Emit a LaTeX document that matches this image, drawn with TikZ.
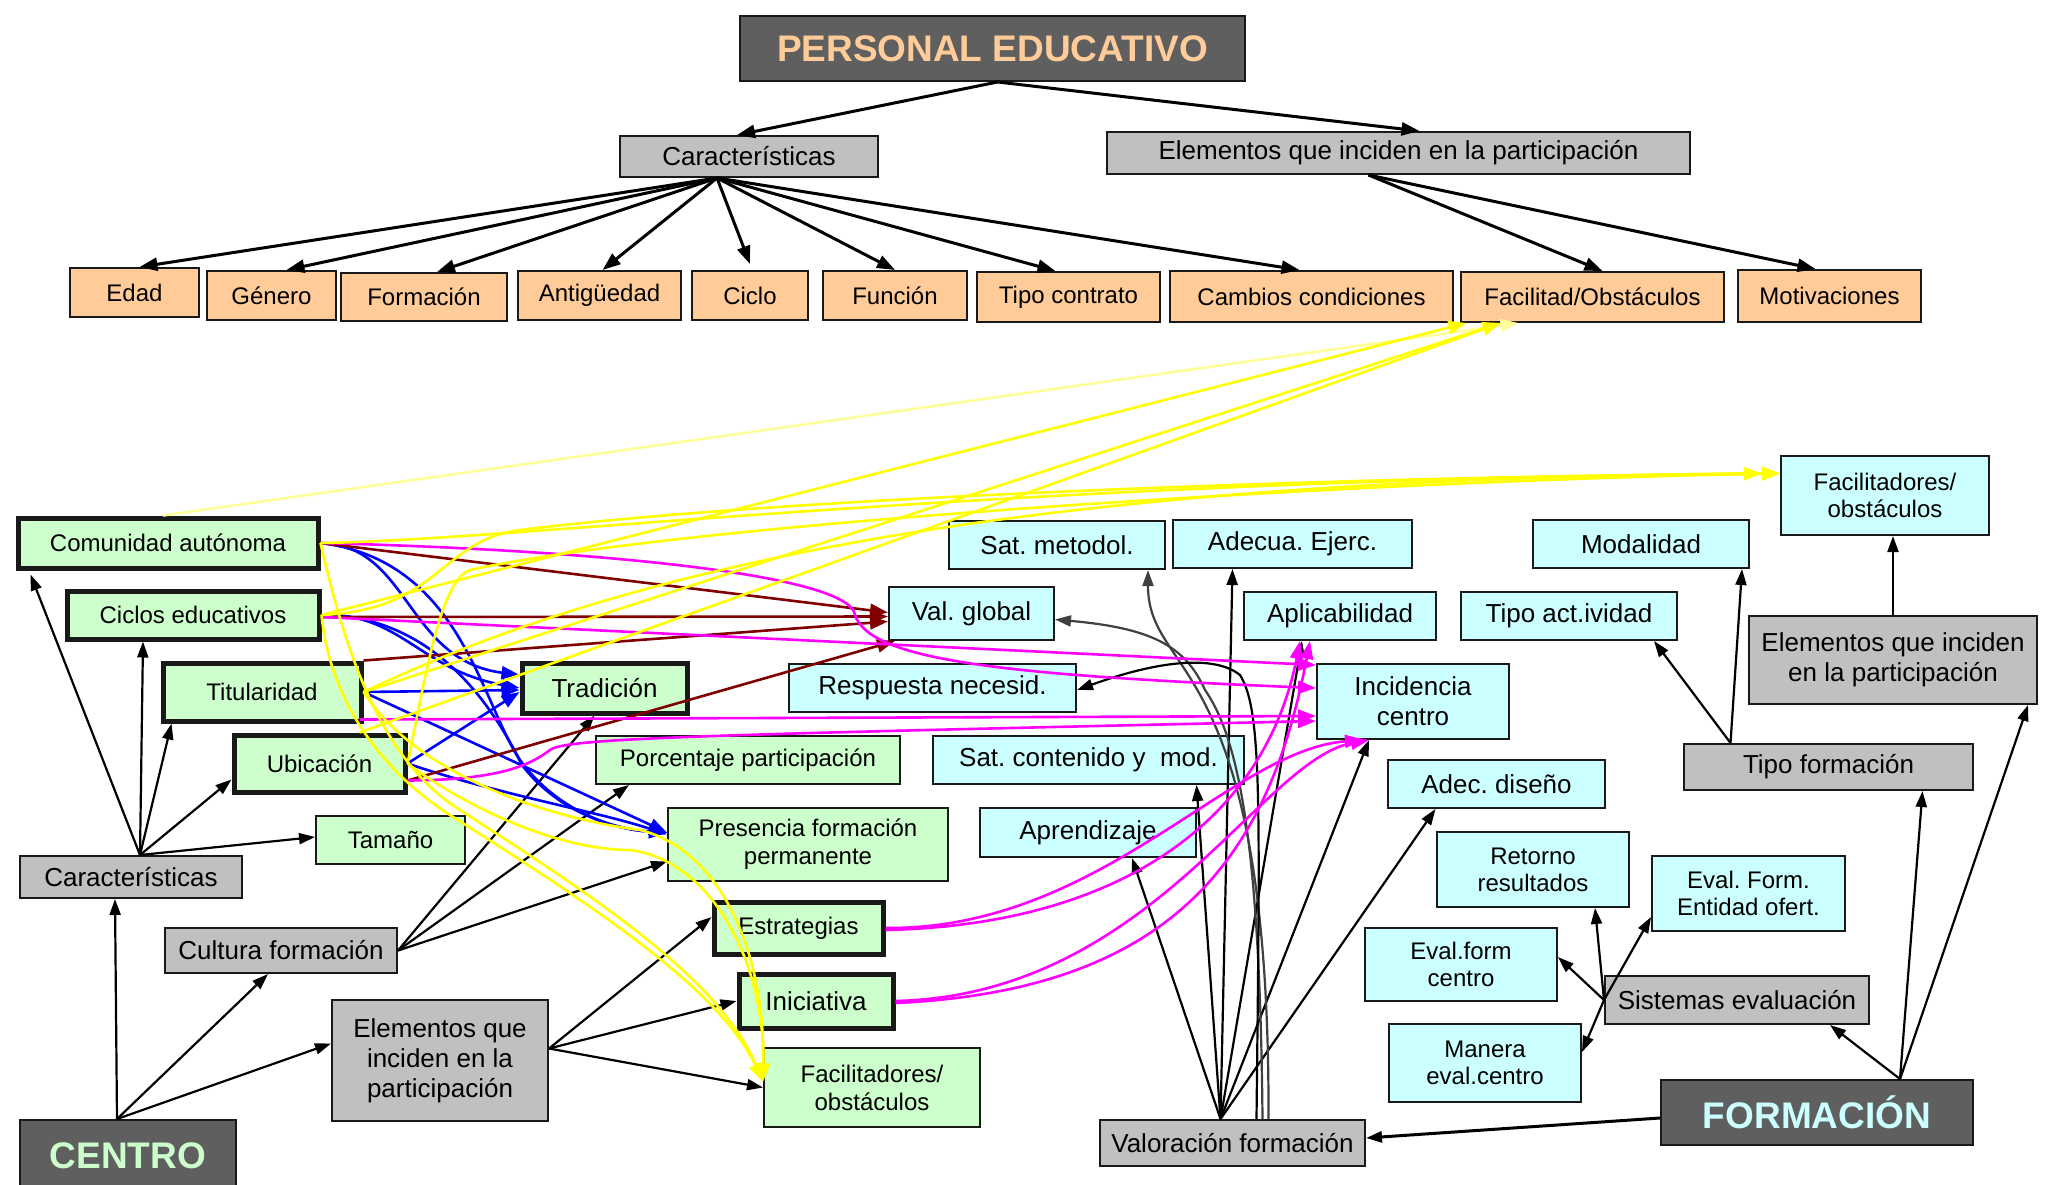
\documentclass[tikz,border=0pt]{standalone}
\usepackage{fontspec}
\setmainfont{Liberation Sans}
\usetikzlibrary{arrows.meta,calc}
\frenchspacing
\definecolor{cOr}{HTML}{FFCC99}
\definecolor{cGr}{HTML}{CCFFCC}
\definecolor{cCy}{HTML}{CCFFFF}
\definecolor{cGy}{HTML}{C0C0C0}
\definecolor{cDk}{HTML}{5F5F5F}
\definecolor{cYe}{HTML}{FFFF00}
\definecolor{cPy}{HTML}{FFFF99}
\definecolor{cMr}{HTML}{800000}
\definecolor{cMg}{HTML}{FF00FF}
\definecolor{cBl}{HTML}{0000FF}
\definecolor{cLn}{HTML}{404040}
\newcommand\fsz[2]{\fontsize{#1pt}{#2pt}\selectfont}
\tikzset{
  box/.style={draw=black!90, line width=2pt, inner sep=0pt, align=center, text=black},
  orangebox/.style={box, fill=cOr, font=\fsz{24}{28}},
  greenbox/.style={box, fill=cGr, font=\fsz{24}{28}},
  thickbox/.style={greenbox, line width=5pt},
  cyanbox/.style={box, fill=cCy, font=\fsz{26}{30}},
  smallcyan/.style={box, fill=cCy, font=\fsz{24}{27}},
  greybox/.style={box, fill=cGy, font=\fsz{26}{30}},
  darkbox/.style={box, fill=cDk, font=\bfseries\fsz{37}{42}},
  toparrow/.style={line width=3pt, -{Triangle[length=18pt,width=13pt]}},
  blkarrow/.style={line width=2.2pt, -{Triangle[length=16pt,width=11pt]}},
  greyarrow/.style={blkarrow, draw=cLn},
  colarrow/.style={line width=2.6pt, -{Triangle[length=18pt,width=13pt]}},
  yel/.style={colarrow, draw=cYe},
  paleyel/.style={colarrow, draw=cPy},
  blu/.style={colarrow, draw=cBl},
  mar/.style={colarrow, draw=cMr},
  mag/.style={colarrow, draw=cMg},
}
\begin{document}
\begin{tikzpicture}[x=1pt,y=-1pt]
\useasboundingbox (0,0) rectangle (2045,1184);
\clip (0,0) rectangle (2045,1184);
\fill[white] (0,0) rectangle (2045,1184);

% ---------- PERSONAL EDUCATIVO ----------
\node[darkbox, text=cOr, minimum width=505pt, minimum height=65pt] (pe) at (992.5,48.5) {PERSONAL EDUCATIVO};
\node[greybox, minimum width=258pt, minimum height=41pt] (carP) at (749,156.5) {Características};
\node[greybox, minimum width=583pt, minimum height=42pt] (elemP) at (1398.5,153) {Elementos que inciden en la participación};

\node[orangebox, minimum width=129pt, minimum height=49pt] (edad) at (134.5,292.5) {Edad};
\node[orangebox, minimum width=129pt, minimum height=49pt] (gen) at (271.5,295.5) {Género};
\node[orangebox, minimum width=166pt, minimum height=48pt] (fmc) at (424,297) {Formación};
\node[orangebox, minimum width=163pt, minimum height=49pt] (ant) at (599.5,295.5) {Antigüedad};
\node[orangebox, minimum width=116pt, minimum height=49pt] (cico) at (750,295.5) {Ciclo};
\node[orangebox, minimum width=144pt, minimum height=49pt] (fun) at (895,295.5) {Función};
\node[orangebox, minimum width=183pt, minimum height=50pt] (tco) at (1068.5,297) {Tipo contrato};
\node[orangebox, minimum width=283pt, minimum height=51pt] (cam) at (1311.5,296.5) {Cambios condiciones};
\node[orangebox, minimum width=263pt, minimum height=50pt] (faco) at (1592.5,297) {Facilitad/Obstáculos};
\node[orangebox, minimum width=183pt, minimum height=52pt] (mot) at (1829.5,296) {Motivaciones};

% ---------- CENTRO ----------
\node[thickbox, minimum width=300pt, minimum height=50pt] (com) at (168,543) {Comunidad autónoma};
\node[thickbox, minimum width=252pt, minimum height=48pt] (cic) at (193,615) {\raisebox{-5pt}{Ciclos educativos}};
\node[thickbox, minimum width=198pt, minimum height=58pt] (tit) at (262,692) {Titularidad};
\node[thickbox, minimum width=171pt, minimum height=57pt] (ubi) at (319.5,763.5) {Ubicación};
\node[greenbox, minimum width=149pt, minimum height=48pt] (tam) at (390.5,840) {Tamaño};
\node[thickbox, font=\fsz{26}{30}, minimum width=165pt, minimum height=50pt] (tra) at (604.5,688) {Tradición};
\node[greenbox, minimum width=304pt, minimum height=48pt] (por) at (748,760) {Porcentaje participación};
\node[greenbox, minimum width=280pt, minimum height=73pt] (pre) at (808,844.5) {Presencia formación\\permanente};
\node[thickbox, minimum width=169pt, minimum height=52pt] (est) at (798.5,928) {\raisebox{-4pt}{Estrategias}};
\node[thickbox, font=\fsz{26}{30}, minimum width=154pt, minimum height=54pt] (ini) at (816,1001) {Iniciativa};
\node[greenbox, minimum width=216pt, minimum height=79pt] (facG) at (872,1087.5) {Facilitadores/\\obstáculos};

\node[greybox, minimum width=222pt, minimum height=42pt] (carC) at (131,877) {Características};
\node[greybox, minimum width=232pt, minimum height=45pt] (cul) at (281,950.5) {Cultura formación};
\node[greybox, minimum width=216pt, minimum height=121pt] (eleC) at (440,1060.5) {Elementos que\\inciden en la\\participación};
\node[darkbox, text=cGr, minimum width=216pt, minimum height=72pt] (centro) at (128,1156) {CENTRO};

% ---------- FORMACION ----------
\node[cyanbox, minimum width=216pt, minimum height=48pt] (satm) at (1057,545) {Sat. metodol.};
\node[cyanbox, minimum width=239pt, minimum height=48pt] (ade) at (1292.5,544) {Adecua. Ejerc.};
\node[cyanbox, minimum width=165pt, minimum height=53pt] (val) at (971.5,613.5) {Val. global};
\node[cyanbox, minimum width=192pt, minimum height=48pt] (apl) at (1340,616) {Aplicabilidad};
\node[cyanbox, minimum width=287pt, minimum height=48pt] (res) at (932.5,688) {Respuesta necesid.};
\node[cyanbox, minimum width=192pt, minimum height=75pt] (inc) at (1413,701.5) {Incidencia\\centro};
\node[cyanbox, minimum width=311pt, minimum height=48pt] (satc) at (1088.5,760) {Sat. contenido y\ \ mod.};
\node[cyanbox, minimum width=216pt, minimum height=49pt] (apr) at (1088,832.5) {Aprendizaje};
\node[cyanbox, minimum width=217pt, minimum height=48pt] (add) at (1496.5,784) {Adec. diseño};
\node[smallcyan, minimum width=192pt, minimum height=75pt] (ret) at (1533,869.5) {Retorno\\resultados};
\node[smallcyan, minimum width=193pt, minimum height=75pt] (eve) at (1748.5,893.5) {Eval. Form.\\Entidad ofert.};
\node[smallcyan, minimum width=192pt, minimum height=73pt] (efc) at (1461,964.5) {Eval.form\\centro};
\node[smallcyan, minimum width=192pt, minimum height=78pt] (man) at (1485,1063) {Manera\\eval.centro};
\node[cyanbox, minimum width=216pt, minimum height=48pt] (mod) at (1641,544) {Modalidad};
\node[smallcyan, minimum width=208pt, minimum height=79pt] (facC) at (1885,495.5) {Facilitadores/\\obstáculos};
\node[cyanbox, minimum width=216pt, minimum height=48pt] (tact) at (1569,616) {Tipo act.ividad};

\node[greybox, minimum width=264pt, minimum height=48pt] (sis) at (1737,1000) {Sistemas evaluación};
\node[greybox, minimum width=265pt, minimum height=46pt] (valf) at (1232.5,1143) {Valoración formación};
\node[greybox, minimum width=288pt, minimum height=88pt] (elF) at (1893,660) {Elementos que inciden\\en la participación};
\node[greybox, minimum width=289pt, minimum height=46pt] (tfor) at (1828.5,767) {Tipo formación};
\node[darkbox, text=cCy, minimum width=312pt, minimum height=65pt] (form) at (1817,1112.5) {FORMACIÓN};

% ---------- upper tree ----------
\draw[toparrow] ([xshift=5pt]pe.south) -- ([xshift=-12pt]carP.north);
\draw[toparrow] ([xshift=5pt]pe.south) -- ([xshift=21pt]elemP.north);
\foreach \t/\s in {edad/5, gen/15, fmc/13, ant/3, fun/0, tco/-13, cam/-12}
  \draw[toparrow] ([xshift=-32pt]carP.south) -- ([xshift=\s pt]\t.north);
\draw[toparrow] ([xshift=-32pt]carP.south) -- ([yshift=6pt]cico.north);
\draw[toparrow] ([xshift=-30pt]elemP.south) -- ([xshift=10pt]faco.north);
\draw[toparrow] ([xshift=-30pt]elemP.south) -- ([xshift=-14pt]mot.north);

% ---------- centro tree ----------
\draw[blkarrow] ([xshift=-11pt]centro.north) -- ([xshift=-16pt]carC.south);
\draw[blkarrow] ([xshift=-11pt]centro.north) -- ([xshift=-13pt]cul.south);
\draw[blkarrow] ([xshift=-11pt]centro.north) -- ([yshift=17pt]eleC.west);
\draw[blkarrow] ([xshift=9pt]carC.north) -- ([xshift=15pt,yshift=-4pt]com.south west);
\draw[blkarrow] ([xshift=9pt]carC.north) -- ([xshift=-50pt]cic.south);
\draw[blkarrow] ([xshift=9pt]carC.north) -- ([xshift=11pt]tit.south west);
\draw[blkarrow] ([xshift=9pt]carC.north) -- ([yshift=-16pt]ubi.west);
\draw[blkarrow] ([xshift=9pt]carC.north) -- ([yshift=3pt]tam.west);
\draw[blkarrow] (cul.east) -- ([xshift=-10pt]tra.south);
\draw[blkarrow] (cul.east) -- ([xshift=34pt]por.south west);
\draw[blkarrow] (cul.east) -- ([yshift=-17pt]pre.west);
\draw[blkarrow] ([yshift=12pt]eleC.east) -- ([yshift=11pt]est.west);
\draw[blkarrow] ([yshift=12pt]eleC.east) -- (ini.west);
\draw[blkarrow] ([yshift=12pt]eleC.east) -- (facG.west);

% ---------- formacion tree ----------
\draw[blkarrow, line width=3pt] ([yshift=-5.5pt]form.west) -- ([yshift=5pt]valf.east);
\draw[blkarrow] ([xshift=83pt]form.north) -- ([xshift=93pt]sis.south);
\draw[blkarrow] ([xshift=83pt]form.north) -- ([xshift=94pt]tfor.south);
\draw[blkarrow] ([xshift=83pt]form.north) -- ([xshift=-10pt]elF.south east);
\draw[blkarrow] (sis.west) -- ([yshift=7.5pt]efc.east);
\draw[blkarrow] (sis.west) -- ([xshift=62pt]ret.south);
\draw[blkarrow] (sis.west) -- ([yshift=-23.5pt]eve.west);
\draw[blkarrow] (sis.west) -- ([yshift=11pt]man.east);
\draw[blkarrow] ([xshift=-98pt]tfor.north) -- ([xshift=85pt]tact.south);
\draw[blkarrow] ([xshift=-98pt]tfor.north) -- ([xshift=-8pt]mod.south east);
\draw[blkarrow] (elF.north) -- ([xshift=8pt]facC.south);

\foreach \t/\s in {apr/44, satc/108, ade/-60, apl/-38, inc/-44, add/-61}
  \draw[blkarrow] ([xshift=-12pt]valf.north) -- ([xshift=\s pt]\t.south);
\draw[greyarrow] ([xshift=36pt]valf.north) .. controls (1270,650) and (1148,680) .. ([xshift=91pt]satm.south);
\draw[greyarrow] ([xshift=30pt]valf.north) .. controls (1260,850) and (1240,740) .. (1205,690)
  .. controls (1185,645) and (1150,628) .. ([yshift=-6pt]val.east);
\draw[blkarrow] ([xshift=24pt]valf.north) .. controls (1260,800) and (1262,710) .. (1240,675)
  .. controls (1215,655) and (1160,660) .. ([yshift=-2pt]res.east);

% ---------- blue links ----------
\draw[blu] (com.east) .. controls (410,545) and (405,660) .. ([yshift=13pt]tra.west);
\draw[blu] (com.east) .. controls (460,560) and (480,700) .. (520,760) .. controls (560,815) and (620,830) .. ([yshift=12pt]pre.west);
\draw[blu] (cic.east) .. controls (400,612) and (420,670) .. (tra.west);
\draw[blu] (cic.east) .. controls (430,615) and (490,700) .. (522,765) .. controls (560,815) and (620,830) .. ([yshift=12pt]pre.west);
\draw[blu] (tit.east) -- ([yshift=-2pt]tra.west);
\draw[blu] (tit.east) -- ([yshift=12pt]pre.west);
\draw[blu] (ubi.east) -- ([yshift=-4pt]tra.west);
\draw[blu] (ubi.east) .. controls (500,795) and (600,812) .. ([yshift=10pt]pre.west);

% ---------- maroon links ----------
\draw[mar] (com.east) -- ([yshift=1pt]val.west);
\draw[mar] ([yshift=-2pt]cic.east) -- ([yshift=-3pt]val.west);
\draw[mar] (tit.north east) -- ([yshift=-8pt]val.west);
\draw[mar] ([yshift=-17pt]ubi.east) -- ([xshift=7pt]val.south west);

% ---------- magenta links ----------
\draw[mag] (com.east) .. controls (600,550) and (850,575) .. (855,615) .. controls (870,660) and (1000,675) .. ([yshift=13.5pt]inc.west);
\draw[mag] ([yshift=-2pt]cic.east) -- ([yshift=36.5pt]inc.west);
\draw[mag] ([xshift=-4pt,yshift=4pt]tit.south east) -- ([yshift=-14.5pt]inc.west);
\draw[mag] ([yshift=-17pt]ubi.east) .. controls (500,780) and (530,765) .. (550,750) .. controls (565,738) and (700,735) .. ([yshift=-19.5pt]inc.west);
\draw[mag] ([yshift=-2pt]est.east) .. controls (1120,925) and (1265,820) .. ([xshift=-40pt]apl.south);
\draw[mag] (est.east) .. controls (1100,930) and (1230,750) .. ([xshift=-50pt]inc.south);
\draw[mag] ([yshift=-2pt]ini.east) .. controls (1180,990) and (1270,850) .. ([xshift=-30pt]apl.south);
\draw[mag] (ini.east) .. controls (1150,995) and (1260,760) .. ([xshift=-44pt]inc.south);

% ---------- yellow links ----------
\draw[paleyel] ([xshift=-5pt]com.north) -- ([xshift=-74pt]faco.south);
\draw[yel] (cic.east) -- ([xshift=-126pt]faco.south);
\draw[yel] (tit.east) -- ([xshift=-92pt]faco.south);
\draw[yel] ([xshift=-48pt]ubi.north east) -- ([xshift=-92pt]faco.south);

\draw[yel] (com.east) .. controls (520,540) and (1000,480) .. ([yshift=22pt]facC.west);
\draw[yel] (cic.east) .. controls (440,610) and (440,540) .. (520,530) .. controls (800,495) and (1400,476) .. ([yshift=22pt]facC.west);
\draw[yel] (ubi.east) .. controls (425,680) and (440,580) .. (470,570) .. controls (700,520) and (1400,480) .. ([yshift=22pt]facC.west);
\draw[yel] (tit.east) .. controls (620,570) and (1000,480) .. ([yshift=22pt,xshift=-18pt]facC.west);

\draw[yel] (com.east) .. controls (345,650) and (380,760) .. (460,810) .. controls (600,900) and (720,980) .. ([yshift=6pt]facG.west);
\draw[yel] (cic.east) .. controls (330,700) and (380,770) .. (450,815) .. controls (600,910) and (720,990) .. ([yshift=6pt]facG.west);
\draw[yel] (tit.east) .. controls (420,780) and (560,820) .. (640,830) .. controls (720,850) and (765,950) .. ([yshift=6pt]facG.west);
\draw[yel] (ubi.east) .. controls (470,810) and (560,850) .. (630,850) .. controls (710,860) and (765,960) .. ([yshift=6pt]facG.west);
\end{tikzpicture}
\end{document}
